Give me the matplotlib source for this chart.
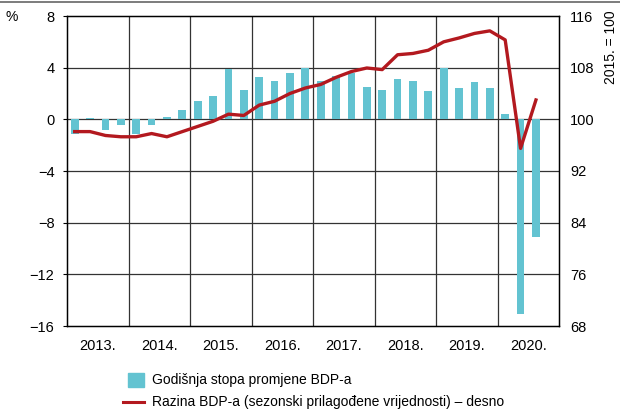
import matplotlib
matplotlib.use("Agg")
import matplotlib.pyplot as plt
from matplotlib.lines import Line2D
from matplotlib.patches import Rectangle
import numpy as np

plt.rcParams['font.family'] = ['Liberation Sans Narrow', 'Liberation Sans', 'DejaVu Sans']

years = ["2013.", "2014.", "2015.", "2016.", "2017.", "2018.", "2019.", "2020."]
growth = [-1.1, 0.1, -0.8, -0.4,
          -1.1, -0.4, 0.2, 0.7,
          1.4, 1.8, 3.9, 2.3,
          3.25, 3.0, 3.55, 3.95,
          3.0, 3.35, 3.55, 2.5,
          2.25, 3.15, 3.0, 2.2,
          4.0, 2.4, 2.9, 2.45,
          0.4, -15.1, -9.1]
level = [98.1, 98.1, 97.5, 97.3,
         97.3, 97.8, 97.3, 98.1,
         98.9, 99.7, 100.8, 100.6,
         102.2, 102.8, 104.0, 104.85,
         105.4, 106.5, 107.4, 107.95,
         107.7, 110.0, 110.2, 110.7,
         112.0, 112.6, 113.3, 113.7,
         112.3, 95.5, 103.0]
left_ticks = [8, 4, 0, -4, -8, -12, -16]
right_ticks = [116, 108, 100, 92, 84, 76, 68]
bar_label = "Godišnja stopa promjene BDP-a"
line_label = "Razina BDP-a (sezonski prilagođene vrijednosti) – desno"

bar_color = "#63C3D1"
line_color = "#B3191F"
W, H = 620, 416

fig = plt.figure(figsize=(W / 100, H / 100), dpi=100)
ax = fig.add_axes([67 / W, 90 / H, 492 / W, 310 / H])
x = np.arange(len(growth))
ax.bar(x, growth, width=0.5, color=bar_color, zorder=2)
ax.set_xlim(-0.5, 31.5)
ax.set_ylim(-16, 8)
ax.set_yticks(left_ticks)
ax.set_yticklabels([str(t).replace('-', '\u2212') for t in left_ticks], fontsize=10.5)
ax.set_xticks([1.5 + 4 * i for i in range(len(years))])
ax.set_xticklabels(years, fontsize=10.5)
ax.tick_params(axis='x', length=0, pad=9)
ax.tick_params(axis='y', length=3, width=0.8, pad=6, direction='out')
for yv in left_ticks[1:-1]:
    ax.axhline(yv, color='#333333', lw=0.9, zorder=1)
for i in range(1, len(years)):
    ax.axvline(-0.5 + 4 * i, color='#333333', lw=0.9, zorder=1)
for s in ax.spines.values():
    s.set_linewidth(1.0)
    s.set_color('black')

ax2 = ax.twinx()
ax2.plot(x, level, color=line_color, lw=2.4, zorder=3)
ax2.set_ylim(68, 116)
ax2.set_yticks(right_ticks)
ax2.set_yticklabels([str(t) for t in right_ticks], fontsize=10.5)
ax2.tick_params(axis='y', length=0, pad=8)
ax2.set_xlim(-0.5, 31.5)

fig.text(12 / W, 1 - 17 / H, "%", fontsize=10, ha='center', va='center')
fig.text(611 / W, 1 - 47 / H, "2015. = 100", fontsize=10, rotation=90, ha='center', va='center')

# top rule
fig.add_artist(Line2D([0, 1], [1 - 1.5 / H, 1 - 1.5 / H], color='#666666', lw=1.2))

# legend
fig.add_artist(Rectangle((128 / W, 1 - 387 / H), 16 / W, 14 / H, color=bar_color, transform=fig.transFigure))
fig.text(152 / W, 1 - 380 / H, bar_label, fontsize=10, va='center', ha='left')
fig.add_artist(Line2D([123 / W, 144 / W], [1 - 402 / H, 1 - 402 / H], color=line_color, lw=2.2))
fig.text(152 / W, 1 - 402 / H, line_label, fontsize=10, va='center', ha='left')

fig.savefig("out.png", dpi=100)
